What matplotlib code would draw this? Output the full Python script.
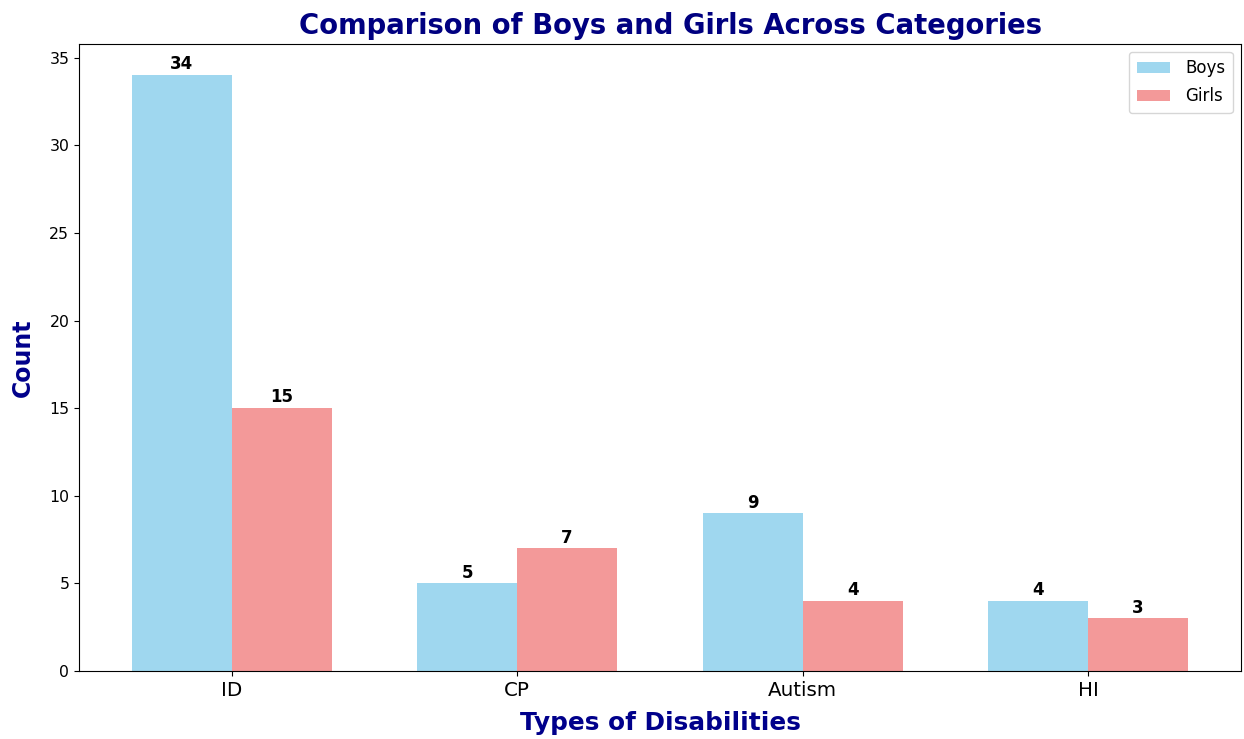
import numpy as np
import matplotlib
matplotlib.use("Agg")
import matplotlib.pyplot as plt

# Counts of children per disability type
categories = ["ID", "CP", "Autism", "HI"]
boys = [34, 5, 9, 4]
girls = [15, 7, 4, 3]

x = np.arange(len(categories))
width = 0.35

fig = plt.figure(figsize=(12.44, 7.39), dpi=100)
ax = fig.add_axes([0.0635, 0.092, 0.934, 0.849])

bars_b = ax.bar(x - width / 2, boys, width, label="Boys", color="skyblue", alpha=0.8)
bars_g = ax.bar(x + width / 2, girls, width, label="Girls", color="lightcoral", alpha=0.8)

for bars in (bars_b, bars_g):
    for b in bars:
        h = b.get_height()
        ax.text(b.get_x() + b.get_width() / 2, h + 0.1, f"{int(h)}",
                ha="center", va="bottom", fontsize=12, fontweight="bold")

ax.set_ylim(0, 35.8)
ax.set_title("Comparison of Boys and Girls Across Categories",
             fontsize=19.8, fontweight="bold", color="navy", pad=7, x=0.509)
ax.set_xlabel("Types of Disabilities", fontsize=17.8, fontweight="bold",
              color="darkblue", labelpad=8)
ax.set_ylabel("Count", fontsize=17, fontweight="bold", color="darkblue", labelpad=10)
ax.set_xticks(x)
ax.set_xticklabels(categories, fontsize=14.3)
ax.tick_params(axis="y", labelsize=11.3)
ax.legend(fontsize=12, labelspacing=0.6, borderpad=0.45, handletextpad=0.9)

fig.savefig("out.png", dpi=100)
